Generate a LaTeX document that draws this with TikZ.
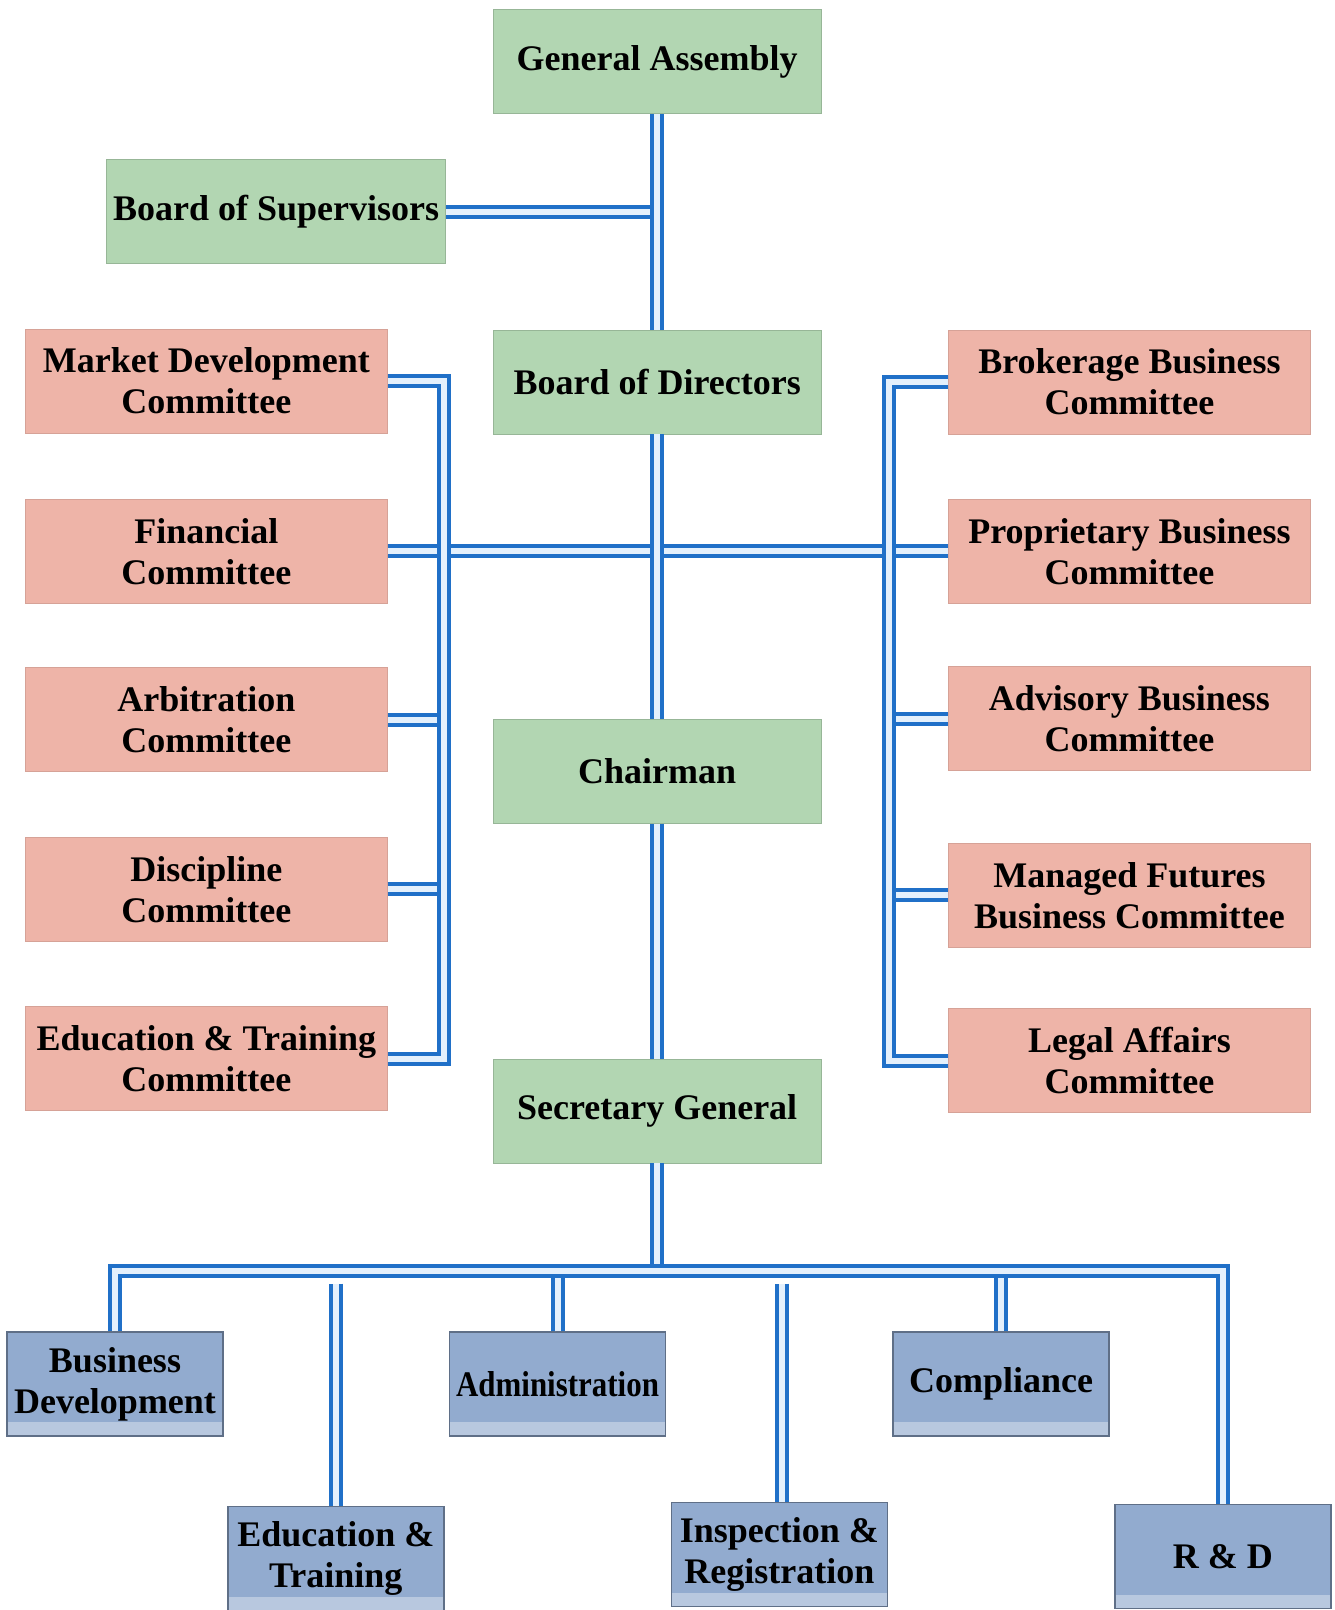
\documentclass[tikz,border=0pt]{standalone}
\usepackage{fontspec}
\setmainfont{Liberation Serif}
\usepackage{graphicx}
\usepackage{tikz}

\definecolor{boardgreen}{RGB}{178,214,178}
\definecolor{cmtepink}{RGB}{238,180,168}
\definecolor{deptblue}{RGB}{146,171,207}
\definecolor{linkblue}{RGB}{32,112,200}
\definecolor{linkpale}{RGB}{228,240,252}

\tikzset{
  boxfont/.style={font=\fontsize{18}{20.5}\selectfont\bfseries},
  board/.style={boxfont, fill=boardgreen, draw=boardgreen!85!black, line width=0.4pt,
    minimum width=164pt, minimum height=52pt, align=center},
  cmte/.style={boxfont, fill=cmtepink, draw=cmtepink!90!black, line width=0.4pt,
    minimum width=181pt, minimum height=52pt, align=center},
  dept/.style={boxfont, fill=deptblue, draw=deptblue!65!black, line width=0.8pt,
    minimum width=108pt, minimum height=52pt, align=center,
    path picture={\fill[white, opacity=0.35] (path picture bounding box.south west)
      rectangle ([yshift=7pt]path picture bounding box.south east);}},
  link/.style={draw=linkblue, line width=2pt, double=linkpale, double distance=3pt, line join=miter}
}

\begin{document}
\begin{tikzpicture}[x=0.5135pt, y=-0.5135pt]
\useasboundingbox (0,0) rectangle (1300,1568);

% top of the chart
\node[board] (ga) at (640,60) {General Assembly};
\node[board] (bos) at (269,206) {Board of Supervisors};
\node[board] (bod) at (640,372) {Board of Directors};
\node[board] (chair) at (640,751) {Chairman};
\node[board] (sg) at (640,1082) {Secretary General};

% committees, left
\node[cmte] (mdc) at (201,371) {Market Development\\Committee};
\node[cmte] (fin) at (201,537) {Financial\\Committee};
\node[cmte] (arb) at (201,701) {Arbitration\\Committee};
\node[cmte] (dis) at (201,866) {Discipline\\Committee};
\node[cmte] (etc) at (201,1031) {Education \& Training\\Committee};

% committees, right
\node[cmte] (bbc) at (1100,372) {Brokerage Business\\Committee};
\node[cmte] (pbc) at (1100,537) {Proprietary Business\\Committee};
\node[cmte] (abc) at (1100,700) {Advisory Business\\Committee};
\node[cmte] (mfc) at (1100,872) {Managed Futures\\Business Committee};
\node[cmte] (lac) at (1100,1033) {Legal Affairs\\Committee};

% departments
\node[dept] (bd) at (112,1348) {Business\\Development};
\node[dept] (adm) at (543,1348) {\scalebox{0.86}[1]{Administration}};
\node[dept] (comp) at (975,1348) {Compliance};
\node[dept] (edt) at (327,1518) {Education \&\\Training};
\node[dept] (ins) at (759,1514) {Inspection \&\\Registration};
\node[dept] (rd) at (1191,1516) {R \& D};

\coordinate (lbar) at (432,0);
\coordinate (rbar) at (866,0);
\coordinate (bus) at (640,1238);
\coordinate (gapline) at (0,1250);

% connectors
\draw[link] (bos.east) -- (bos.east -| ga.south);
\draw[link] (ga.south) -- (bod.north);
\draw[link] (fin.east) -- (pbc.west);
\draw[link] (bod.south) -- (chair.north);
\draw[link] (chair.south) -- (sg.north);

\draw[link] (arb.east) -- (arb.east -| lbar);
\draw[link] (dis.east) -- (dis.east -| lbar);
\draw[link] (mdc.east) -| (lbar |- etc.east) -- (etc.east);
\draw[link] (abc.west) -- (abc.west -| rbar);
\draw[link] (mfc.west) -- (mfc.west -| rbar);
\draw[link] (bbc.west) -| (rbar |- lac.west) -- (lac.west);

\draw[link] (sg.south) -- (bus);
\draw[link] (adm.north) -- (adm.north |- bus);
\draw[link] (comp.north) -- (comp.north |- bus);
\draw[link] (bd.north) |- (bus) -| (rd.north);
\draw[link] (edt.north |- gapline) -- (edt.north);
\draw[link] ([xshift=1.5pt]ins.north |- gapline) -- ([xshift=1.5pt]ins.north);

\end{tikzpicture}
\end{document}
